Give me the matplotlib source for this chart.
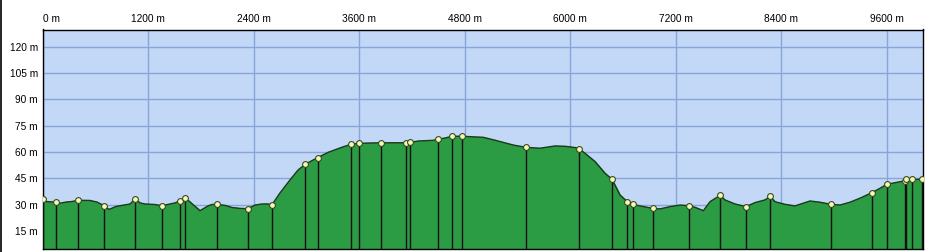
import matplotlib
matplotlib.use("Agg")
from matplotlib import pyplot as plt
from matplotlib.lines import Line2D

# elevation profile (distance m, elevation m)
dist = [0, 36, 150, 184, 264, 332, 400, 537, 616, 696, 753, 833, 924, 992, 1049,
        1106, 1162, 1276, 1356, 1447, 1504, 1561, 1617, 1788, 1879, 1924, 1981,
        2072, 2152, 2243, 2331, 2414, 2493, 2561, 2607, 2698, 2812, 2903, 2986,
        3127, 3247, 3400, 3502, 3597, 3847, 4131, 4177, 4271, 4442, 4495, 4575,
        4654, 4768, 5010, 5163, 5276, 5352, 5496, 5655, 5826, 5940, 6053, 6099,
        6167, 6281, 6394, 6474, 6565, 6648, 6710, 6793, 6884, 6937, 7020, 7134,
        7248, 7350, 7418, 7513, 7589, 7703, 7759, 7873, 7998, 8101, 8214, 8271,
        8328, 8442, 8555, 8726, 8840, 8962, 9068, 9181, 9295, 9428, 9522, 9599,
        9693, 9808, 9818, 9886, 10000, 10015]
elev = [33.4, 31.9, 31.5, 30.8, 31.6, 31.9, 32.6, 32.5, 31.6, 29.5, 27.4, 29.1,
        29.9, 30.5, 33.3, 31.1, 30.5, 30.2, 29.5, 30.5, 31.1, 32.4, 34.1, 26.7,
        29.4, 30.2, 30.3, 29.7, 28.5, 28.0, 27.8, 29.9, 30.5, 30.5, 30.1, 36.8,
        44.2, 49.8, 53.1, 56.9, 59.9, 62.7, 64.4, 65.0, 65.3, 65.3, 65.5, 66.3,
        66.7, 67.3, 68.0, 69.0, 69.0, 68.4, 66.5, 65.0, 64.0, 62.7, 62.2, 63.5,
        63.3, 62.6, 61.9, 59.3, 54.6, 48.0, 44.5, 35.6, 31.8, 30.3, 29.4, 28.5,
        28.0, 27.7, 29.0, 29.9, 29.5, 28.6, 26.7, 31.8, 35.4, 32.8, 30.5, 29.0,
        31.3, 32.8, 34.8, 31.8, 30.3, 29.4, 32.2, 31.5, 30.3, 29.9, 31.5, 33.8,
        36.9, 39.4, 41.7, 42.6, 43.7, 44.5, 44.5, 44.5, 44.5]

# waypoints
wp_dist = [0, 150, 400, 696, 1049, 1356, 1561, 1617, 1981, 2331, 2607, 2986, 3127,
           3502, 3597, 3847, 4131, 4177, 4495, 4654, 4768, 5496, 6099, 6474, 6648,
           6710, 6937, 7350, 7703, 7998, 8271, 8962, 9428, 9599, 9808, 9818, 9886,
           10000]
wp_elev = [33.4, 31.5, 32.6, 29.5, 33.3, 29.5, 32.4, 34.1, 30.3, 27.8, 30.1, 53.1,
           56.9, 64.4, 65.0, 65.3, 65.3, 65.5, 67.3, 69.0, 69.0, 62.7, 61.9, 44.5,
           31.8, 30.3, 28.0, 29.5, 35.4, 29.0, 34.8, 30.3, 36.9, 41.7, 43.7, 44.5,
           44.5, 44.5]

x_ticks = [0, 1200, 2400, 3600, 4800, 6000, 7200, 8400, 9600]
y_ticks = [15, 30, 45, 60, 75, 90, 105, 120]

plt.rcParams['font.family'] = ['Liberation Sans', 'DejaVu Sans']

fig = plt.figure(figsize=(9.27, 2.52), dpi=100)
ax = fig.add_axes([42.8 / 927, 3 / 252, (923.3 - 42.8) / 927, (249 - 29.5) / 252])

ymin, ymax = 4.9, 129.7
ax.set_facecolor('#c3d7f6')
ax.fill_between(dist, ymin, elev, color='#2b9b44', zorder=2)
ax.plot(dist, elev, color='#1c3a1c', lw=1, zorder=3)
ax.vlines(wp_dist, ymin, wp_elev, colors='#111111', lw=1, zorder=4)
ax.plot(wp_dist, wp_elev, 'o', ms=4.2, mfc='#f2fab8', mec='#3a4a20', mew=0.8,
        zorder=5)

ax.set_xlim(0, 10015)
ax.set_ylim(ymin, ymax)

ax.xaxis.tick_top()
ax.set_xticks(x_ticks)
ax.set_xticklabels([f"{v} m" for v in x_ticks])
ax.get_xticklabels()[0].set_horizontalalignment('left')
ax.set_yticks(y_ticks)
ax.set_yticklabels([f"{v} m" for v in y_ticks])
ax.tick_params(axis='both', length=0, labelsize=7.3, colors='black')
ax.tick_params(axis='x', pad=4)
ax.tick_params(axis='y', pad=3.5)

ax.grid(True, color='#88a6dc', lw=1, zorder=1)
ax.set_axisbelow(True)
for s in ax.spines.values():
    s.set_color('black')
    s.set_linewidth(1)

# black border at the left edge of the image
fig.add_artist(Line2D([0.6 / 927, 0.6 / 927], [0, 1], color='black', lw=1.2,
                      transform=fig.transFigure))

fig.savefig("out.png", dpi=100, facecolor='white')
